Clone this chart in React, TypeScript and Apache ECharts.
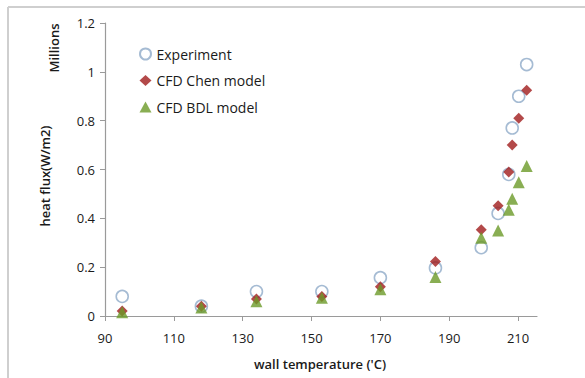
import React, { useEffect, useRef } from "react";
import * as echarts from "echarts";

// Wall temperature (°C) of each measured / simulated point
const wallTemp = [95, 118, 134, 153, 170, 186, 199.3, 204.2, 207.3, 208.3, 210.2, 212.5];
// Heat flux in millions of W/m2
const experiment = [0.08, 0.04, 0.1, 0.1, 0.157, 0.197, 0.28, 0.42, 0.58, 0.77, 0.9, 1.03];
const chenModel = [0.02, 0.04, 0.07, 0.08, 0.12, 0.223, 0.353, 0.452, 0.59, 0.7, 0.81, 0.925];
const bdlModel = [0.015, 0.035, 0.06, 0.075, 0.11, 0.16, 0.32, 0.35, 0.435, 0.48, 0.548, 0.614];

const xTicks = [90, 110, 130, 150, 170, 190, 210];

const FONT = "'Open Sans', 'DejaVu Sans', sans-serif";

const pairs = (ys: number[]) => wallTemp.map((t, i) => [t, ys[i]]);

export default function App() {
  const ref = useRef<HTMLDivElement>(null);

  useEffect(() => {
    if (!ref.current) return;
    const chart = echarts.init(ref.current, null, { renderer: "svg" });
    chart.setOption({
      animation: false,
      backgroundColor: "#ffffff",
      grid: { left: 105, right: 48, top: 23, bottom: 62 },
      legend: {
        orient: "vertical",
        left: 134,
        top: 42,
        itemWidth: 12,
        itemHeight: 11,
        itemGap: 12.5,
        textStyle: { fontFamily: FONT, fontSize: 14, fontWeight: 500, color: "#1a1a1a" },
        data: ["Experiment", "CFD Chen model", "CFD BDL model"],
      },
      xAxis: {
        type: "value",
        min: 90,
        max: 215.5,
        splitLine: { show: false },
        axisLine: { lineStyle: { color: "#9a9a9a", width: 1.2 } },
        axisTick: { customValues: xTicks, length: 5, lineStyle: { color: "#9a9a9a" } },
        axisLabel: {
          customValues: xTicks,
          margin: 15,
          fontFamily: FONT,
          fontSize: 13,
          fontWeight: 500,
          color: "#1a1a1a",
        },
      },
      yAxis: {
        type: "value",
        min: 0,
        max: 1.2,
        interval: 0.2,
        splitLine: { show: false },
        axisLine: { show: true, lineStyle: { color: "#9a9a9a", width: 1.2 } },
        axisTick: { show: true, length: 5, lineStyle: { color: "#9a9a9a" } },
        axisLabel: { margin: 10, fontFamily: FONT, fontSize: 13, fontWeight: 500, color: "#1a1a1a" },
      },
      graphic: [
        { type: "line", shape: { x1: 8, y1: 7, x2: 585, y2: 7 }, style: { stroke: "#cfcfcf", lineWidth: 2 } },
        { type: "line", shape: { x1: 8, y1: 7, x2: 8, y2: 378 }, style: { stroke: "#cfcfcf", lineWidth: 2 } },
        {
          type: "text",
          x: 54,
          y: 48,
          rotation: Math.PI / 2,
          style: {
            text: "Millions",
            fontFamily: FONT,
            fontSize: 13,
            fontWeight: 600,
            fill: "#1a1a1a",
            align: "center",
            verticalAlign: "middle",
          },
        },
        {
          type: "text",
          x: 45,
          y: 176,
          rotation: Math.PI / 2,
          style: {
            text: "heat flux(W/m2)",
            fontFamily: FONT,
            fontSize: 13,
            fontWeight: 600,
            fill: "#1a1a1a",
            align: "center",
            verticalAlign: "middle",
          },
        },
        {
          type: "text",
          x: 320,
          y: 364,
          style: {
            text: "wall temperature ('C)",
            fontFamily: FONT,
            fontSize: 13,
            fontWeight: 600,
            fill: "#1a1a1a",
            align: "center",
            verticalAlign: "middle",
          },
        },
      ],
      series: [
        {
          name: "Experiment",
          type: "scatter",
          symbol: "circle",
          symbolSize: 12,
          itemStyle: { color: "#ffffff", borderColor: "#8eaac8", borderWidth: 1.6 },
          data: pairs(experiment),
          z: 2,
        },
        {
          name: "CFD Chen model",
          type: "scatter",
          symbol: "diamond",
          symbolSize: 11,
          itemStyle: { color: "#a01c1c" },
          data: pairs(chenModel),
          z: 3,
        },
        {
          name: "CFD BDL model",
          type: "scatter",
          symbol: "triangle",
          symbolSize: 12,
          itemStyle: { color: "#6c9a28" },
          data: pairs(bdlModel),
          z: 4,
        },
      ],
    });
    return () => chart.dispose();
  }, []);

  return <div ref={ref} style={{ width: 585, height: 378, position: "fixed", left: 0, top: 0 }} />;
}
